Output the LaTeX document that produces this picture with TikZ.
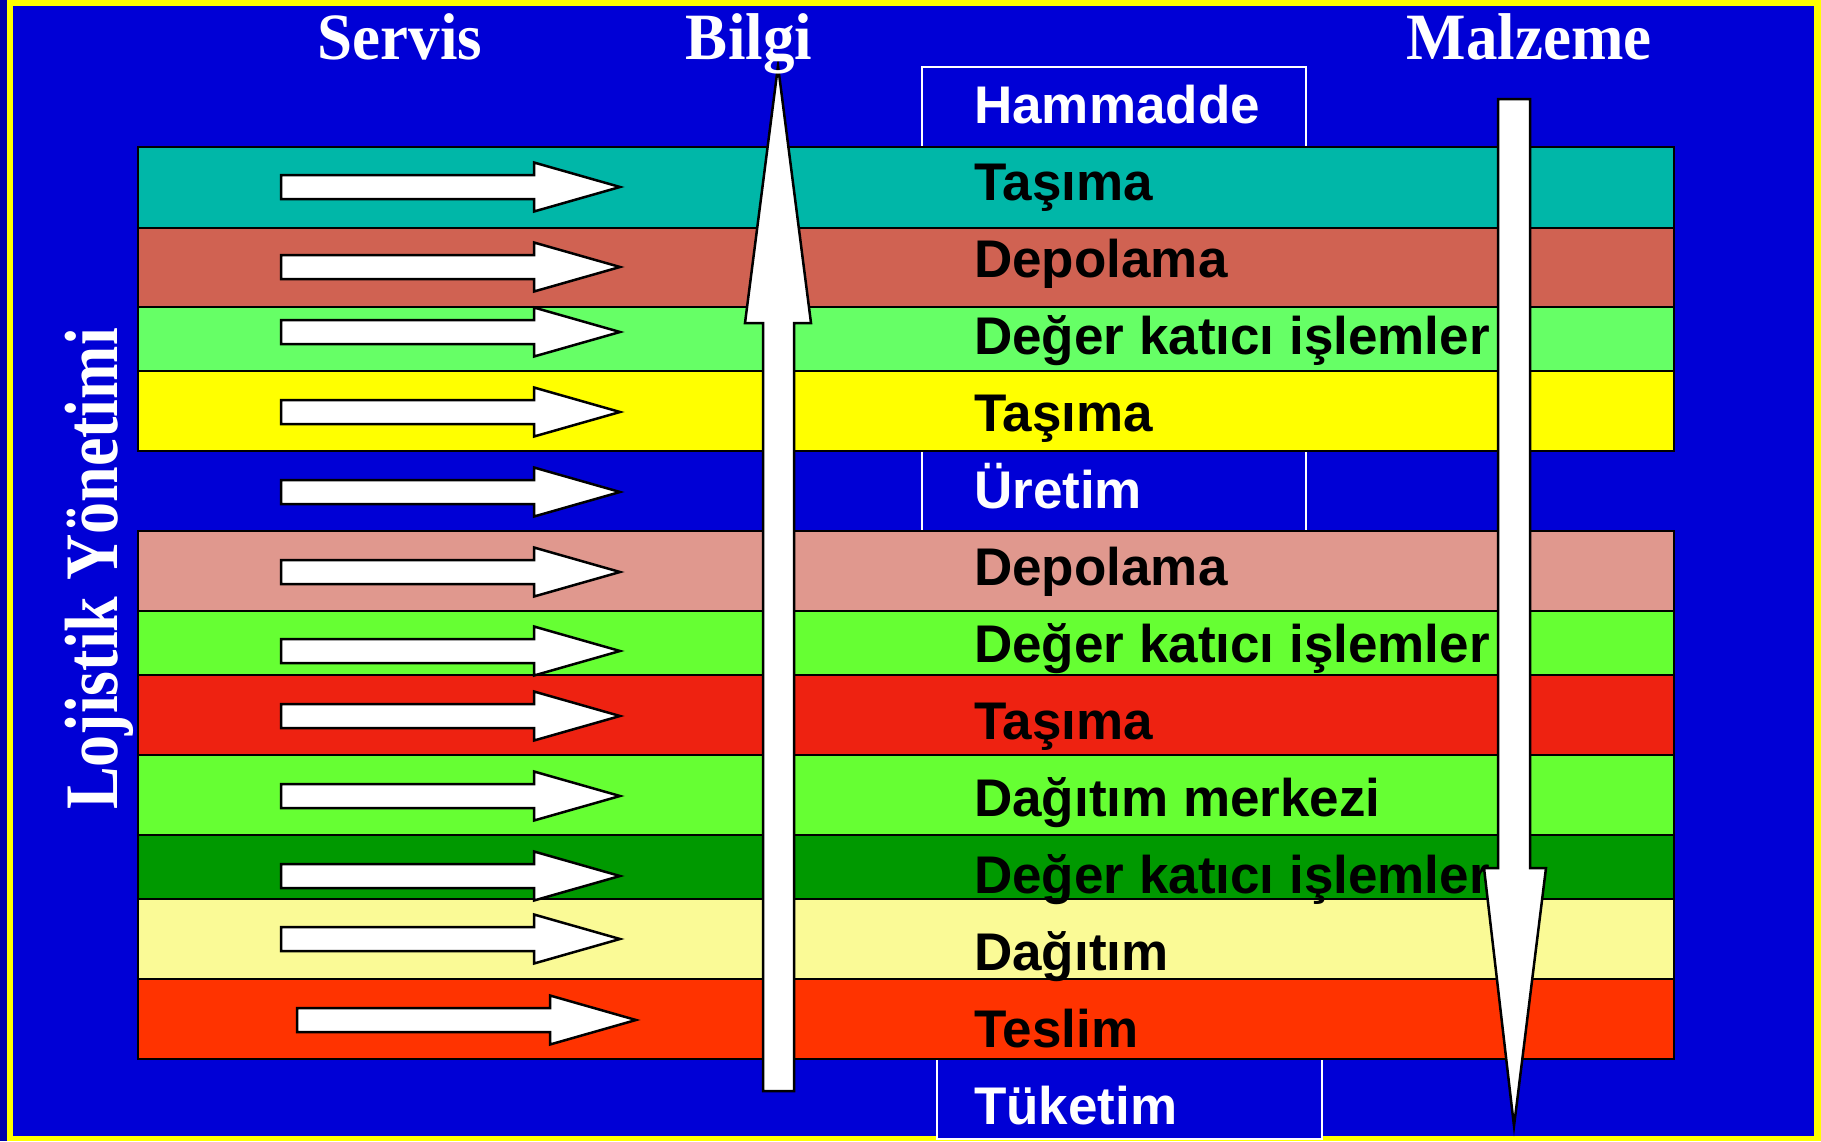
\documentclass[tikz,border=0pt]{standalone}
\usepackage{fontspec}
\setmainfont{Liberation Serif}
\newfontfamily\arialfont{Liberation Sans}
\definecolor{cBlue}{RGB}{0,0,214}
\definecolor{cDark}{RGB}{0,0,170}
\definecolor{cFrame}{RGB}{255,255,0}
\definecolor{cTeal}{RGB}{0,183,168}
\definecolor{cDepA}{RGB}{208,98,82}
\definecolor{cLGreen}{RGB}{102,255,102}
\definecolor{cYellow}{RGB}{255,255,0}
\definecolor{cPink}{RGB}{224,152,142}
\definecolor{cGreen}{RGB}{102,255,51}
\definecolor{cRed}{RGB}{238,34,17}
\definecolor{cDGreen}{RGB}{0,153,0}
\definecolor{cLYellow}{RGB}{250,250,150}
\definecolor{cTeslim}{RGB}{255,51,0}
\begin{document}
\begin{tikzpicture}[x=1pt,y=-1pt,
  band/.style={draw=black, line width=2.5pt, minimum width=1536pt, inner sep=0pt, outer sep=0pt, rectangle},
  stagebox/.style={draw=white, line width=1.5pt, fill=cBlue, minimum width=384pt, minimum height=80pt, inner sep=0pt, outer sep=0pt, rectangle},
  lbl/.style={anchor=base west, inner sep=0pt, font=\arialfont\bfseries\fontsize{53}{60}\selectfont},
  head/.style={anchor=base, inner sep=0pt, text=white, font=\bfseries\fontsize{63}{70}\selectfont},
  blockarrow/.style={draw=black, fill=white, line width=2.5pt, line join=miter}
]
\useasboundingbox (0,0) rectangle (1821,1141);
% background and frame
\fill[cDark] (0,0) rectangle (1821,1141);
\fill[cFrame] (7,0) rectangle (1821,1141);
\fill[cBlue] (12.7,6) rectangle (1814,1136);

% stage boxes
\node[stagebox] (hbox) at (1114,107) {};
\node[stagebox] (ubox) at (1114,491) {};
\node[stagebox, minimum width=385pt] (tbox) at (1129.5,1099) {};

% bands
\foreach \t/\b/\c/\n in {147/228/cTeal/b1, 228/307/cDepA/b2, 307/371/cLGreen/b3, 371/451/cYellow/b4,
  531/611/cPink/b5, 611/675/cGreen/b6, 675/755/cRed/b7, 755/835/cGreen/b8,
  835/899/cDGreen/b9, 899/979/cLYellow/b10, 979/1059/cTeslim/b11}
  \node[band, fill=\c, minimum height={\b-\t}] (\n) at (906,{(\t+\b)/2}) {};

% labels
\node[lbl, text=white] (l0) at (974,123) {Hammadde};
\node[lbl] (l1) at (974,200) {Taşıma};
\node[lbl] (l2) at (974,277) {Depolama};
\node[lbl] (l3) at (974,354) {Değer katıcı işlemler};
\node[lbl] (l4) at (974,431) {Taşıma};
\node[lbl, text=white] (l5) at (974,508) {Üretim};
\node[lbl] (l6) at (974,585) {Depolama};
\node[lbl] (l7) at (974,662) {Değer katıcı işlemler};
\node[lbl] (l8) at (974,739) {Taşıma};
\node[lbl] (l9) at (974,816) {Dağıtım merkezi};
\node[lbl] (l10) at (974,893) {Değer katıcı işlemler};
\node[lbl] (l11) at (974,970) {Dağıtım};
\node[lbl] (l12) at (974,1047) {Teslim};
\node[lbl, text=white] (l13) at (974,1124) {Tüketim};

% servis arrows
\foreach \y/\dx in {187/0, 267/0, 332/0, 412/0, 492/0, 572/0, 651/0, 716/0, 796/0, 876/0, 939/0, 1020/16}
  \draw[blockarrow] ({281+\dx},{\y-12}) -- ({534+\dx},{\y-12}) -- ({534+\dx},{\y-24.5})
    -- ({620+\dx},\y) -- ({534+\dx},{\y+24.5}) -- ({534+\dx},{\y+12}) -- ({281+\dx},{\y+12}) -- cycle;

% Bilgi arrow (up)
\draw[blockarrow] (763,1091) -- (794,1091) -- (794,323) -- (811,323) -- (778,66) -- (745,323) -- (763,323) -- cycle;
% Malzeme arrow (down)
\draw[blockarrow] (1498,99) -- (1530,99) -- (1530,868) -- (1546,868) -- (1514,1126) -- (1484,868) -- (1498,868) -- cycle;

% headings
\node[head] (servis) at (400,59) {\scalebox{1}[1.05]{Servis}};
\node[head] (bilgi) at (749,59) {\scalebox{1}[1.05]{Bilgi}};
\node[head] (malzeme) at (1529,59) {\scalebox{1}[1.05]{Malzeme}};
\node[head, font=\bfseries\fontsize{64}{70}\selectfont, rotate=90] (lojistik) at (117,569) {\scalebox{1}[1.18]{Lojistik Yönetimi}};
\end{tikzpicture}
\end{document}
